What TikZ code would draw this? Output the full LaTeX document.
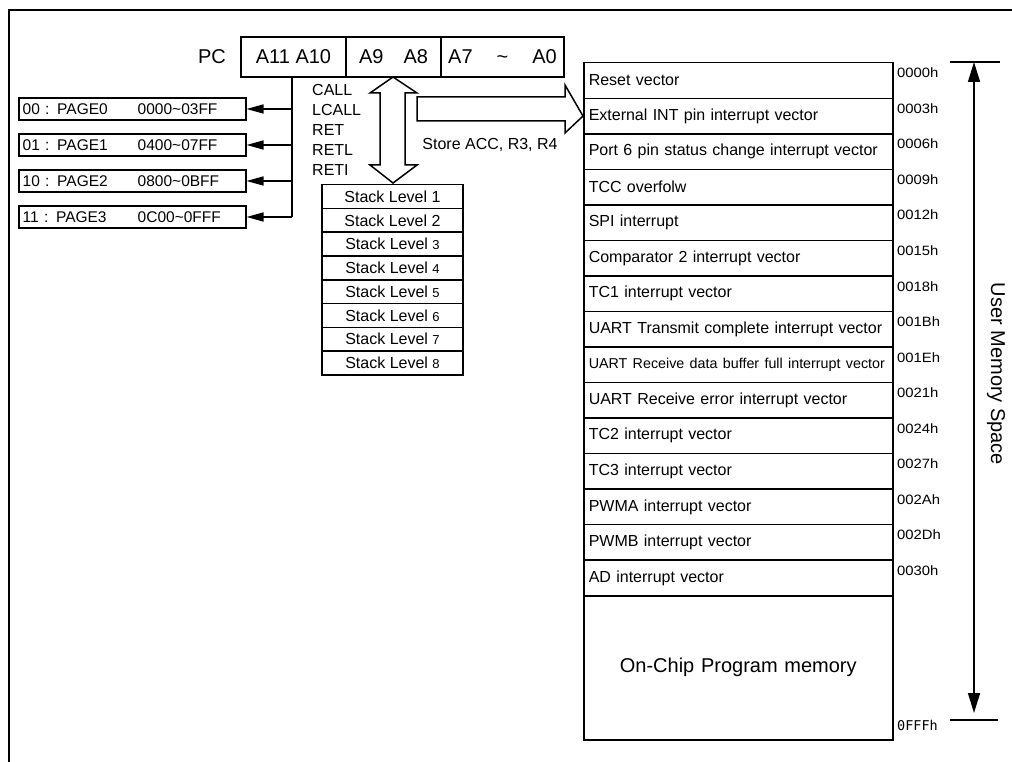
\documentclass[tikz,border=0pt]{standalone}
\usepackage{fontspec}
\setmainfont{Liberation Sans}
\newfontfamily\monofnt{DejaVu Sans Mono}
\usetikzlibrary{arrows.meta}
\newcommand{\fsz}[1]{\fontsize{#1}{#1}\selectfont}
\begin{document}
\begin{tikzpicture}[x=1pt,y=-1pt,
  lw/.style={line width=1.5pt},
  pccell/.style={draw, lw, inner sep=0pt, minimum height=40pt, font=\fsz{20}},
  pagebox/.style={draw, lw, inner sep=0pt, minimum width=227pt, minimum height=22pt, anchor=west, text width=219pt, align=left, font=\fsz{15.5}},
  memrow/.style={draw, lw, minimum width=309pt, minimum height=35.53pt, text width=299pt, inner xsep=5pt, inner ysep=0pt, align=left, anchor=north west, font=\fsz{16}},
  addr/.style={anchor=west, inner sep=0pt, font=\fsz{13.5}},
  stk/.style={draw, lw, inner sep=0pt, minimum width=141pt, minimum height=23.75pt, anchor=north, font=\fsz{16}},
  conn/.style={lw},
  hollow/.style={draw, lw, fill=white, line join=miter},
  tri/.style={-{Triangle[length=17pt,width=9pt]}}
]
\useasboundingbox (0,0) rectangle (1012,762);
% outer frame
\draw[line width=2.2pt] (1012,10) -- (9,10) -- (9,762);

% PC register
\node[font=\fsz{20}, anchor=east, inner sep=0pt] (pclbl) at (226,57) {PC};
\node[pccell, minimum width=105pt] (c1) at (293.5,57) {A11 A10};
\node[pccell, minimum width=95pt] (c2) at (393.5,57) {A9\hspace{20pt}A8};
\node[pccell, minimum width=123pt] (c3) at (502.5,57) {A7\hspace{24pt}\textasciitilde\hspace{24pt}A0};

% page boxes
\foreach \i/\yy/\a/\b in {0/109/00 : PAGE0/0000\textasciitilde 03FF,1/145/01 : PAGE1/0400\textasciitilde 07FF,2/181/10 : PAGE2/0800\textasciitilde 0BFF,3/217/11 : PAGE3/0C00\textasciitilde 0FFF}{
  \node[pagebox] (p\i) at (18,\yy) {\makebox[115pt][l]{\a}\b};
}
\coordinate (bustop) at (292,77);
\coordinate (busbot) at (292,217);
\draw[conn] (bustop) -- (busbot);
\foreach \i in {0,1,2,3}{
  \draw[conn,tri] (p\i.east -| bustop) -- (p\i.east);
}

% instruction labels
\node[anchor=west, align=left, font=\fontsize{16}{20}\selectfont, inner sep=0pt] (instr) at (312,130)
  {CALL\\LCALL\\RET\\RETL\\RETI};
\node[font=\fsz{16}, inner sep=0pt] (store) at (490,145) {Store ACC, R3, R4};

% stack
\foreach \i/\t in {1/1,2/2,3/{\fsz{13}3},4/{\fsz{13}4},5/{\fsz{13}5},6/{\fsz{13}6},7/{\fsz{13}7},8/{\fsz{13}8}}{
  \node[stk] (s\i) at (392.5,{184+(\i-1)*23.75}) {Stack Level \t};
}

% hollow double arrow (PC <-> stack)
\draw[hollow] (393,77) -- (417,93) -- (405,93) -- (405,165) -- (417,165) -- (393,183)
  -- (370,165) -- (380,165) -- (380,93) -- (370,93) -- cycle;

% memory table
\foreach \i/\t/\ad in {
 1/Reset vector/0000h,
 2/External INT pin interrupt vector/0003h,
 3/Port 6 pin status change interrupt vector/0006h,
 4/TCC overfolw/0009h,
 5/SPI interrupt/0012h,
 6/Comparator 2 interrupt vector/0015h,
 7/TC1 interrupt vector/0018h,
 8/UART Transmit complete interrupt vector/001Bh,
 9/{\fsz{14.3}UART Receive data buffer full interrupt vector}/001Eh,
 10/UART Receive error interrupt vector/0021h,
 11/TC2 interrupt vector/0024h,
 12/TC3 interrupt vector/0027h,
 13/PWMA interrupt vector/002Ah,
 14/PWMB interrupt vector/002Dh,
 15/AD interrupt vector/0030h}{
  \node[memrow] (r\i) at (583,{62+(\i-1)*35.533}) {\t};
  \node[addr] (a\i) at (897,{73+(\i-1)*35.533}) {\scalebox{1.1}[1]{\ad}};
}
\node[memrow, minimum height=144pt, align=center, font=\fsz{20}] (onchip) at (583,595) {On-Chip Program memory};
\node[addr, font=\monofnt\fsz{13.5}] (aend) at (897,725) {0FFFh};

% hollow arrow to External INT row
\draw[hollow] (417,97) -- (565,97) -- (565,85) -- (r2.west) -- (565,133) -- (565,121) -- (417,121) -- cycle;

% user memory space
\coordinate (mtop) at (974,62);
\coordinate (mbot) at (974,720);
\draw[conn] (950,62) -- (1000,62);
\draw[conn] (950,720) -- (998,720);
\draw[conn, {Triangle[length=20pt,width=12pt]}-{Triangle[length=20pt,width=12pt]}, shorten >=7pt] (mtop) -- (mbot);
\node[rotate=-90, font=\fsz{20}, inner sep=0pt] (ums) at (996,374) {User Memory Space};
\end{tikzpicture}
\end{document}
